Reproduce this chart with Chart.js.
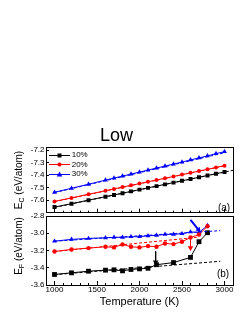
<!DOCTYPE html>
<html>
<head>
<meta charset="utf-8">
<script src="https://cdn.jsdelivr.net/npm/chart.js@4.4.1/dist/chart.umd.min.js"></script>
<style>
  html, body { margin: 0; padding: 0; background: #fff; }
  #wrap {
    position: relative; width: 249px; height: 323px; overflow: hidden;
    font-family: 'Liberation Sans', Arial, sans-serif; color: #000;
  }
  #wrap canvas.chart { position: absolute; left: 0; }
  #topChart { top: 0; }
  #botChart { top: 200px; }
  .ytitle {
    position: absolute; white-space: nowrap; font-size: 10px; line-height: 1;
    transform: translate(-50%, -50%) rotate(-90deg);
  }
  .ytitle sub { font-size: 7px; vertical-align: baseline; position: relative; top: 2px; }
  .tag { position: absolute; font-size: 10px; line-height: 1; transform: translate(-50%, -50%); }
  #legend { position: absolute; left: 49.3px; top: 150.2px; }
  .lg-item { display: flex; align-items: center; height: 9.7px; font-size: 8px; line-height: 1; }
  .lg-item canvas { display: block; }
  .lg-item span { margin-left: 1.4px; }
</style>
</head>
<body>
<div id="wrap">
  <canvas id="topChart" class="chart" width="249" height="222"></canvas>
  <canvas id="botChart" class="chart" width="249" height="123"></canvas>
  <div id="legend"></div>
  <div class="ytitle" style="left:18.5px;top:180px">E<sub>C</sub> (eV/atom)</div>
  <div class="ytitle" style="left:18.5px;top:246px">E<sub>F</sub> (eV/atom)</div>
  <div class="tag" style="left:224px;top:207.5px">(a)</div>
  <div class="tag" style="left:223px;top:273.5px">(b)</div>
</div>
<script>
/* ----------------------------------------------------------
   DATOS — panel (a): energía de cohesión E_C
---------------------------------------------------------- */
const SERIES = ['10%', '20%', '30%'];

const TEMP_A = [1000, 1200, 1400, 1600, 1700, 1800, 1900, 2000, 2100,
                2200, 2300, 2400, 2500, 2600, 2700, 2800, 2900, 3000];
const EC_10 = [-7.655, -7.628, -7.600, -7.572, -7.558, -7.545, -7.530, -7.516, -7.502,
               -7.488, -7.474, -7.460, -7.445, -7.432, -7.417, -7.403, -7.389, -7.375];
const EC_20 = [-7.610, -7.582, -7.553, -7.525, -7.510, -7.496, -7.482, -7.468, -7.453,
               -7.439, -7.425, -7.411, -7.396, -7.382, -7.368, -7.354, -7.339, -7.325];
const EC_30 = [-7.537, -7.505, -7.473, -7.440, -7.424, -7.408, -7.392, -7.376, -7.360,
               -7.344, -7.328, -7.312, -7.296, -7.279, -7.263, -7.247, -7.229, -7.213];

// ajustes lineales (discontinuas)
const FIT_EC_10_T = [1000, 3100];
const FIT_EC_10_E = [-7.658, -7.362];
const FIT_EC_20_T = [1000, 3000];
const FIT_EC_20_E = [-7.612, -7.327];
const FIT_EC_30_T = [1000, 3000];
const FIT_EC_30_E = [-7.540, -7.222];

/* ----------------------------------------------------------
   DATOS — panel (b): E_F
---------------------------------------------------------- */
const TEMP_B = [1000, 1200, 1400, 1600, 1700, 1800, 1900, 2000,
                2100, 2200, 2300, 2400, 2500, 2600, 2700, 2800];
const TEMP_B10 = [1000, 1200, 1400, 1600, 1700, 1800, 1900, 2000,
                  2100, 2200, 2400, 2600, 2700, 2800];
const EF_10 = [-3.478, -3.459, -3.440, -3.428, -3.424, -3.436, -3.420, -3.413,
               -3.406, -3.365, -3.340, -3.280, -3.098, -2.994];
const EF_20 = [-3.211, -3.188, -3.172, -3.157, -3.164, -3.129, -3.157, -3.164,
               -3.149, -3.157, -3.118, -3.126, -3.098, -3.050, -3.015, -2.918];
const EF_30 = [-3.092, -3.071, -3.060, -3.052, -3.048, -3.048, -3.040, -3.040,
               -3.029, -3.025, -3.013, -3.013, -3.005, -2.985, -2.990, -2.910];

const FIT_EF_10_T = [1000, 2950];
const FIT_EF_10_E = [-3.480, -3.325];
const FIT_EF_20_T = [1000, 2700];
const FIT_EF_20_E = [-3.212, -3.045];
const FIT_EF_30_T = [1000, 2950];
const FIT_EF_30_E = [-3.092, -2.970];

// flechas de transición
const ARROW_10_T = [2190, 2190];
const ARROW_10_E = [-3.210, -3.335];
const ARROW_20_T = [2600, 2600];
const ARROW_20_E = [-3.070, -3.170];
const ARROW_30_T = [2600, 2695];
const ARROW_30_E = [-2.845, -2.960];

/* ----------------------------------------------------------
   EJES Y MARCAS
---------------------------------------------------------- */
const T_MIN = 900,   T_MAX = 3100;
const EC_MIN = -7.7, EC_MAX = -7.18;
const EF_MIN = -3.6, EF_MAX = -2.8;

const TICKS_T  = [1000, 1500, 2000, 2500, 3000];
const TICKS_EC = [-7.6, -7.5, -7.4, -7.3, -7.2];
const TICKS_EF = [-3.6, -3.4, -3.2, -3.0, -2.8];

const BLACK = '#000000';
const RED   = '#ff0000';
const BLUE  = '#0000ff';

Chart.defaults.font.family = "'Liberation Sans', Arial, sans-serif";
Chart.defaults.color = '#000';

/* ----------------------------------------------------------
   HELPERS
---------------------------------------------------------- */
function pts(xs, ys) {
  return xs.map((x, i) => ({ x, y: ys[i] }));
}

function fixedTicks(values) {
  return s => { s.ticks = values.map(v => ({ value: v })); };
}

function serie(label, xs, ys, color, style, r) {
  return {
    label,
    xAxisID: 'x',
    yAxisID: 'y',
    data:             pts(xs, ys),
    borderColor:      color,
    backgroundColor:  color,
    borderWidth:      1,
    pointStyle:       style,
    pointRadius:      r,
    pointHoverRadius: r,
    pointBorderWidth: 0,
    tension:          0,
  };
}

function fit(xs, ys, color) {
  return {
    label: '',
    xAxisID: 'x',
    yAxisID: 'y',
    data:        pts(xs, ys),
    borderColor: color,
    borderWidth: 1,
    borderDash:  [3, 2],
    pointRadius: 0,
  };
}

function arrow(xs, ys, color, width, rot) {
  return {
    label: '',
    xAxisID: 'x',
    yAxisID: 'y',
    data:             pts(xs, ys),
    borderColor:      color,
    backgroundColor:  color,
    borderWidth:      width,
    pointStyle:       'triangle',
    pointRadius:      [0, 3.2],
    pointRotation:    [0, rot],
    pointBorderWidth: 0,
  };
}

/* ----------------------------------------------------------
   LEYENDA HTML (línea + marcador)
---------------------------------------------------------- */
function legendSymbol(color, shape) {
  const c = document.createElement('canvas');
  c.width = 21; c.height = 7;
  const g = c.getContext('2d');
  g.strokeStyle = color; g.fillStyle = color; g.lineWidth = 1;
  g.beginPath(); g.moveTo(0, 3.5); g.lineTo(21, 3.5); g.stroke();
  g.beginPath();
  if (shape === 'rect') {
    g.rect(8.5, 1.5, 4, 4);
  } else if (shape === 'circle') {
    g.arc(10.5, 3.5, 2.1, 0, Math.PI * 2);
  } else {
    g.moveTo(10.5, 0.6); g.lineTo(13.3, 5.6); g.lineTo(7.7, 5.6); g.closePath();
  }
  g.fill();
  return c;
}

function renderLegend() {
  const el = document.getElementById('legend');
  const looks = [[BLACK, 'rect'], [RED, 'circle'], [BLUE, 'triangle']];
  SERIES.forEach((name, i) => {
    const row = document.createElement('div');
    row.className = 'lg-item';
    row.appendChild(legendSymbol(looks[i][0], looks[i][1]));
    const txt = document.createElement('span');
    txt.textContent = name;
    row.appendChild(txt);
    el.appendChild(row);
  });
}

/* ----------------------------------------------------------
   CONFIGURACIÓN DE EJES
---------------------------------------------------------- */
const zeroH = s => { s.height = 0; };
const zeroW = s => { s.width = 0; };

function yAxis(min, max, tickValues) {
  return {
    type: 'linear', position: 'left', min, max, bounds: 'data',
    border: { color: BLACK },
    grid:  { drawOnChartArea: false, color: BLACK, tickLength: -3 },
    ticks: {
      autoSkip: false, padding: 4.5, font: { size: 8 },
      callback: v => v.toFixed(1),
    },
    afterBuildTicks: fixedTicks(tickValues),
    afterFit: s => { s.width = 46; },
  };
}

function axes(withLabels, yMin, yMax, yTicks) {
  const grid = { drawOnChartArea: false, color: BLACK };
  const x = {
    type: 'linear', position: 'bottom', weight: 1, min: T_MIN, max: T_MAX, bounds: 'data',
    border: { color: BLACK },
    grid:  { ...grid, tickLength: -4 },
    ticks: {
      display: withLabels, autoSkip: false, maxRotation: 0, padding: 4,
      font: { size: 8 }, callback: v => String(v),
    },
    afterBuildTicks: fixedTicks(TICKS_T),
  };
  if (withLabels) {
    x.title = { display: true, text: 'Temperature (K)', font: { size: 11 }, padding: { top: 0, bottom: 0.4 } };
    x.afterFit = s => { s.height = 24; };
  } else {
    x.afterFit = zeroH;
  }
  return {
    x,
    y: yAxis(yMin, yMax, yTicks),
    xMinor: {
      type: 'linear', position: 'bottom', weight: 0, min: T_MIN, max: T_MAX, bounds: 'data',
      border: { color: BLACK },
      grid:  { ...grid, tickLength: -2 },
      ticks: { display: false, stepSize: 100 },
      afterFit: zeroH,
    },
    xTop: {
      type: 'linear', position: 'top', min: T_MIN, max: T_MAX,
      border: { color: BLACK }, grid: { display: false }, ticks: { display: false },
      afterFit: zeroH,
    },
    yRight: {
      type: 'linear', position: 'right', min: yMin, max: yMax,
      border: { color: BLACK }, grid: { display: false }, ticks: { display: false },
      afterFit: zeroW,
    },
  };
}

/* ----------------------------------------------------------
   PANEL (a)
---------------------------------------------------------- */
new Chart(document.getElementById('topChart'), {
  type: 'line',
  data: {
    datasets: [
      serie(SERIES[0], TEMP_A, EC_10, BLACK, 'rect', 2.8),
      serie(SERIES[1], TEMP_A, EC_20, RED, 'circle', 2),
      serie(SERIES[2], TEMP_A, EC_30, BLUE, 'triangle', 2.8),
      fit(FIT_EC_10_T, FIT_EC_10_E, BLACK),
      fit(FIT_EC_20_T, FIT_EC_20_E, RED),
      fit(FIT_EC_30_T, FIT_EC_30_E, BLUE),
    ],
  },
  options: {
    responsive: false,
    animation:  false,
    layout: { padding: { top: 125, right: 16, bottom: 6, left: 0 } },
    scales: axes(false, EC_MIN, EC_MAX, TICKS_EC),
    plugins: {
      title: {
        display: true, text: 'Low', color: BLACK,
        font: { size: 18, weight: 'normal' }, padding: { top: 0, bottom: 0.9 },
      },
      legend:  { display: false },
      tooltip: { enabled: false },
    },
  },
});

/* ----------------------------------------------------------
   PANEL (b)
---------------------------------------------------------- */
new Chart(document.getElementById('botChart'), {
  type: 'line',
  data: {
    datasets: [
      fit(FIT_EF_10_T, FIT_EF_10_E, BLACK),
      fit(FIT_EF_20_T, FIT_EF_20_E, RED),
      fit(FIT_EF_30_T, FIT_EF_30_E, BLUE),
      serie(SERIES[0], TEMP_B10, EF_10, BLACK, 'rect', 3.4),
      serie(SERIES[1], TEMP_B, EF_20, RED, 'circle', 2.2),
      serie(SERIES[2], TEMP_B, EF_30, BLUE, 'triangle', 2.8),
      arrow(ARROW_10_T, ARROW_10_E, BLACK, 1, 180),
      arrow(ARROW_20_T, ARROW_20_E, RED, 1, 180),
      arrow(ARROW_30_T, ARROW_30_E, BLUE, 2, 140),
    ],
  },
  options: {
    responsive: false,
    animation:  false,
    layout: { padding: { top: 16, right: 16, bottom: 14, left: 0 } },
    scales: axes(true, EF_MIN, EF_MAX, TICKS_EF),
    plugins: {
      legend:  { display: false },
      tooltip: { enabled: false },
    },
  },
});

renderLegend();
</script>
</body>
</html>
